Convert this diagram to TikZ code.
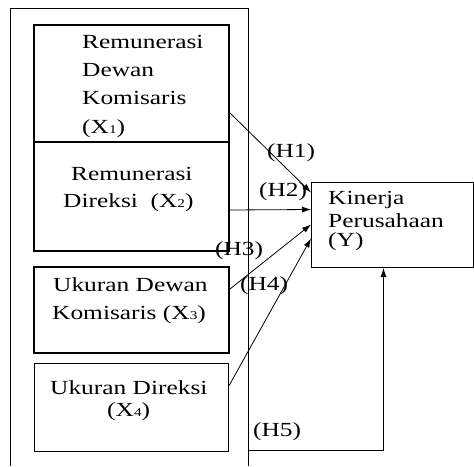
\documentclass[tikz,border=0pt]{standalone}
\usepackage{fontspec}
\setmainfont{Liberation Serif}[FakeStretch=1.27]
\usetikzlibrary{arrows.meta}
\newcommand\sbx[1]{\raisebox{-0.5pt}{\fontsize{12}{12}\selectfont #1}}
\tikzset{
  x=1pt, y=-1pt,
  box/.style={draw, inner sep=0, anchor=north west},
  thickbox/.style={box, line width=2pt},
  thinbox/.style={box, line width=1.1pt},
  txt/.style={anchor=base west, inner sep=0, font=\fontsize{20}{22}\selectfont},
  conn/.style={line width=0.8pt, -{Latex[length=9pt,width=6pt]}},
  frame/.style={line width=1pt}
}
\begin{document}
\begin{tikzpicture}
\useasboundingbox (0,0) rectangle (474,466);
\fill[white] (0,0) rectangle (474,466);
% outer frame
\draw[frame] (10,466) -- (10,8) -- (248,8) -- (248,466);
% boxes
\node[thickbox, minimum width=195pt, minimum height=117pt] (x1) at (33,24) {};
\node[thickbox, minimum width=195pt, minimum height=109pt] (x2) at (33,141) {};
\node[thickbox, minimum width=195pt, minimum height=86pt] (x3) at (33,266) {};
\node[thinbox, minimum width=194pt, minimum height=88pt] (x4) at (34,363) {};
\node[box, line width=1pt, minimum width=162pt, minimum height=85pt] (y) at (311,182) {};
% texts
\node[txt] (t1a) at (82,48) {Remunerasi};
\node[txt] (t1b) at (82,76) {Dewan};
\node[txt] (t1c) at (82,104) {Komisaris};
\node[txt] (t1d) at (82,133) {(X\sbx{1})};
\node[txt] (t2a) at (71,180) {Remunerasi};
\node[txt] (t2b) at (63,207) {Direksi\ \ (X\sbx{2})};
\node[txt] (t3a) at (53,291) {Ukuran Dewan};
\node[txt] (t3b) at (52,319) {Komisaris (X\sbx{3})};
\node[txt] (t4a) at (50,394) {Ukuran Direksi};
\node[txt] (t4b) at (107,416) {(X\sbx{4})};
\node[txt] (tya) at (328,204) {Kinerja};
\node[txt] (tyb) at (328,227) {Perusahaan};
\node[txt] (tyc) at (328,246) {(Y)};
% connectors
\draw[conn] ([yshift=-29.5pt]x1.east) -- ([yshift=32.5pt]y.west);
\draw[conn] ([yshift=-13.5pt]x2.east) -- ([yshift=15.5pt]y.west);
\draw[conn] ([yshift=21pt]x3.east) -- ([yshift=0.5pt]y.west);
\draw[conn] ([yshift=22pt]x4.east) -- ([yshift=-13.5pt]y.west);
\coordinate (h5s) at (248,450);
\draw[conn] (h5s) -| ([xshift=-9pt]y.south);
% hypothesis labels
\node[txt] (h1) at (267,157) {(H1)};
\node[txt] (h2) at (259,196) {(H2)};
\node[txt] (h3) at (215,255) {(H3)};
\node[txt] (h4) at (240,290) {(H4)};
\node[txt] (h5) at (253,436) {(H5)};
\end{tikzpicture}
\end{document}
